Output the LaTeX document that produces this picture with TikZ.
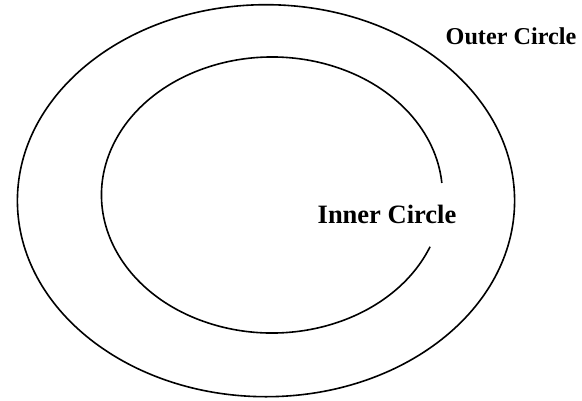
\documentclass[tikz,border=0pt]{standalone}
\usepackage{fontspec}
\setmainfont{Liberation Serif}
\begin{document}
\begin{tikzpicture}[x=1pt,y=-1pt,
  ring/.style={draw=black,line width=1.6pt},
  lbl/.style={font=\bfseries,inner sep=0pt,anchor=base}]
\useasboundingbox (0,0) rectangle (582,400);
% outer circle
\draw[ring] (266,200.7) ellipse [x radius=248.6, y radius=196];
% inner circle with gap on the right
\coordinate (ic) at (272,195);
\draw[ring] (ic) ++(22:170.5 and 138) arc [start angle=22, end angle=355, x radius=170.5, y radius=138];
\node[lbl,font=\fontsize{26.5}{30}\selectfont\bfseries] (inner) at (387,223) {Inner Circle};
\node[lbl,font=\fontsize{24.2}{28}\selectfont\bfseries] (outer) at (511,44) {Outer Circle};
\end{tikzpicture}
\end{document}
